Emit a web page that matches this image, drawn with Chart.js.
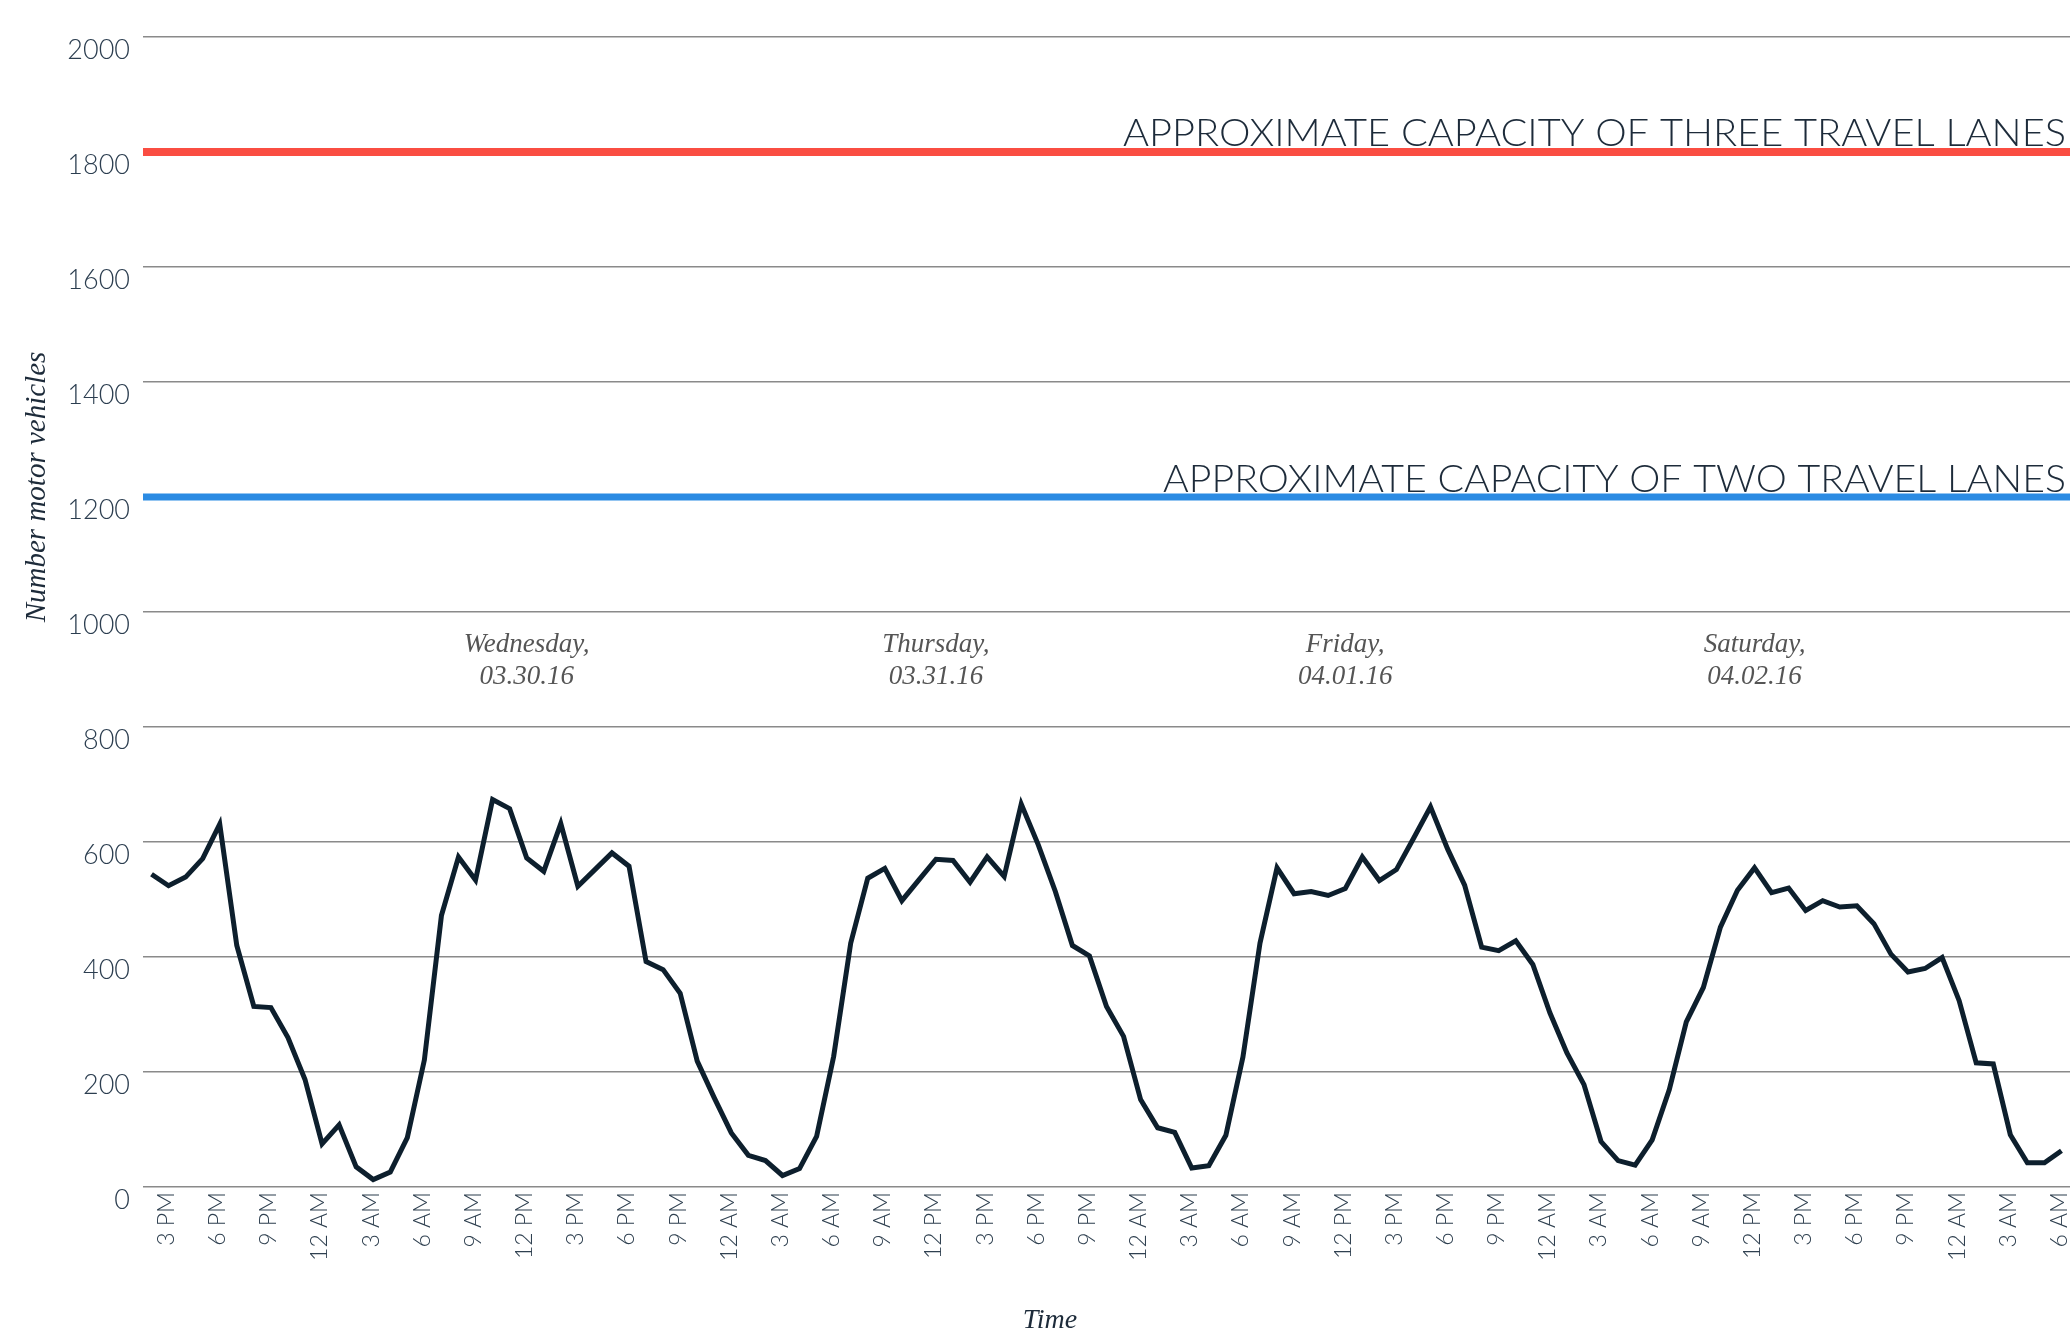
<!DOCTYPE html>
<html>
<head>
<meta charset="utf-8">
<script src="https://cdn.jsdelivr.net/npm/chart.js@4.4.1/dist/chart.umd.min.js"></script>
<style>
  html, body { margin: 0; padding: 0; background: #fff; }
  #wrap { width: 2070px; height: 1335px; position: relative; }
</style>
</head>
<body>
<div id="wrap"><canvas id="trafficChart"></canvas></div>
<script>
// Hourly motor vehicle counts, first reading Tuesday 2 PM
const startHour = 14;
const volumes = [
  544, 524, 539, 571, 631, 420, 314, 312, 260, 187,
  75, 108, 35, 13, 26, 86, 221, 472, 574, 534,
  674, 658, 572, 549, 632, 523, 552, 581, 558, 392,
  378, 337, 219, 155, 94, 55, 46, 20, 32, 88,
  227, 424, 537, 554, 498, 534, 570, 568, 530, 574,
  540, 666, 595, 514, 420, 402, 314, 262, 152, 103,
  95, 33, 37, 90, 226, 424, 555, 510, 514, 507,
  519, 574, 533, 552, 606, 661, 588, 525, 417, 411,
  428, 387, 303, 233, 178, 79, 46, 38, 82, 169,
  287, 347, 452, 516, 555, 512, 520, 481, 498, 487,
  489, 458, 405, 374, 380, 399, 324, 216, 214, 91,
  42, 42, 63
];

// capacity reference lines
const capacityValues = [1800, 1200];
const capacityLabels = [
  'APPROXIMATE CAPACITY OF THREE TRAVEL LANES',
  'APPROXIMATE CAPACITY OF TWO TRAVEL LANES'
];

// day captions, placed at noon of each day
const dayLabels = [
  ['Wednesday,', '03.30.16'],
  ['Thursday,', '03.31.16'],
  ['Friday,', '04.01.16'],
  ['Saturday,', '04.02.16']
];
const dayNoonIndex = [22, 46, 70, 94];

const yTitle = 'Number motor vehicles';
const xTitle = 'Time';

// hour labels for each reading
function hourLabel(h) {
  if (h === 0) return '12 AM';
  if (h < 12) return h + ' AM';
  if (h === 12) return '12 PM';
  return (h - 12) + ' PM';
}
const hours = volumes.map((v, i) => (startHour + i) % 24);
const labels = hours.map(hourLabel);

const navy = '#1d2b3a';

const annotations = {
  id: 'annotations',
  afterDraw(chart) {
    const ctx = chart.ctx;
    const area = chart.chartArea;
    const xs = chart.scales.x;
    const ys = chart.scales.y;
    ctx.save();

    // capacity lines + captions
    const colors = ['#fa4d42', '#2b8be3'];
    const widths = [8, 7];
    const textWidths = [943, 903];
    ctx.font = '300 37px Lato';
    capacityValues.forEach((v, i) => {
      const py = ys.getPixelForValue(v);
      ctx.fillStyle = colors[i];
      ctx.fillRect(area.left, py - widths[i] / 2, area.right - area.left, widths[i]);
      const sx = textWidths[i] / ctx.measureText(capacityLabels[i]).width;
      ctx.save();
      ctx.translate(area.right - 4, py - widths[i] / 2 - 2);
      ctx.scale(sx, 1);
      ctx.textAlign = 'right';
      ctx.textBaseline = 'alphabetic';
      ctx.fillStyle = navy;
      ctx.fillText(capacityLabels[i], 0, 0);
      ctx.restore();
    });

    // day captions
    ctx.font = 'italic 27px "Liberation Serif"';
    ctx.fillStyle = '#555555';
    ctx.textAlign = 'center';
    ctx.textBaseline = 'middle';
    const y0 = ys.getPixelForValue(1000);
    dayLabels.forEach((lines, i) => {
      const px = xs.getPixelForValue(dayNoonIndex[i]);
      ctx.fillText(lines[0], px, y0 + 33);
      ctx.fillText(lines[1], px, y0 + 65);
    });

    // axis titles
    ctx.fillStyle = navy;
    ctx.font = 'italic 29px "Liberation Serif"';
    ctx.save();
    ctx.translate(37, 487);
    ctx.rotate(-Math.PI / 2);
    ctx.fillText(yTitle, 0, 0);
    ctx.restore();
    ctx.font = 'italic 28px "Liberation Serif"';
    ctx.fillText(xTitle, 1050, 1321);

    ctx.restore();
  }
};

new Chart(document.getElementById('trafficChart'), {
  type: 'line',
  data: {
    labels: labels,
    datasets: [{
      data: volumes,
      borderColor: '#0d1f2d',
      borderWidth: 5,
      pointRadius: 0,
      tension: 0,
      borderJoinStyle: 'miter',
      fill: false
    }]
  },
  options: {
    responsive: true,
    maintainAspectRatio: false,
    animation: false,
    devicePixelRatio: 1,
    layout: { padding: { top: 37, right: 0, bottom: 0, left: 0 } },
    plugins: {
      legend: { display: false },
      tooltip: { enabled: false }
    },
    scales: {
      x: {
        offset: true,
        grid: { display: false, drawTicks: false },
        border: { display: false },
        afterFit(scale) {
          scale.height = 148;
          scale.paddingLeft = 0;
          scale.paddingRight = 0;
        },
        ticks: {
          autoSkip: false,
          minRotation: 90,
          maxRotation: 90,
          padding: 5,
          labelOffset: -2,
          color: '#2f4050',
          font: { family: 'Lato', weight: '300', size: 23 },
          callback(value, index) {
            return hours[index] % 3 === 0 ? labels[index] : '';
          }
        }
      },
      y: {
        min: 0,
        max: 2000,
        afterFit(scale) { scale.width = 143; },
        grid: { color: '#8a8a8a', lineWidth: 1.5, drawTicks: false },
        border: { display: false },
        ticks: {
          stepSize: 200,
          padding: 13,
          labelOffset: 13,
          color: '#2c3e50',
          font: { family: 'Lato', weight: '300', size: 27 },
          callback(value) { return String(value); }
        }
      }
    }
  },
  plugins: [annotations]
});
</script>
</body>
</html>
